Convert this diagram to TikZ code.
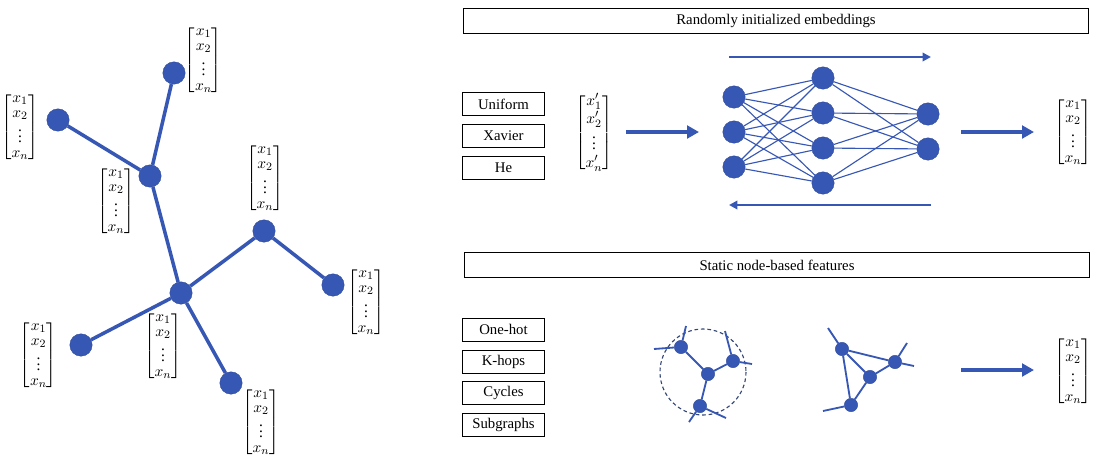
\documentclass[tikz,border=0pt]{standalone}
\usepackage{amsmath}
\usepackage{fontspec}
\setmainfont{Liberation Serif}
\usetikzlibrary{arrows.meta}
\definecolor{nodeblue}{RGB}{55,87,180}
\definecolor{ringgray}{RGB}{52,70,118}
\def\xvec{$\begin{bmatrix}x_1\\x_2\\\vdots\\x_n\end{bmatrix}$}
\def\xvecp{\fontsize{11}{12.6}\selectfont$\begin{bmatrix}x'_1\\x'_2\\\vdots\\x'_n\end{bmatrix}$}
\tikzset{
	vert/.style={circle, fill=nodeblue, draw=nodeblue!85!black, line width=0.3pt, inner sep=0pt, minimum size=15.9pt},
	dot/.style={circle, fill=nodeblue, draw=nodeblue!85!black, line width=0.3pt, inner sep=0pt, minimum size=9.5pt},
	vec/.style={inner sep=0pt, font=\fontsize{11}{10.4}\selectfont},
	tag/.style={draw, line width=0.6pt, minimum width=58.8pt, minimum height=16.3pt, inner sep=0pt, font=\fontsize{10.5}{12}\selectfont},
	banner/.style={draw, line width=0.6pt, minimum width=445pt, minimum height=17.7pt, inner sep=0pt, font=\fontsize{10.5}{12}\selectfont},
	tree/.style={nodeblue, line width=2.5pt},
	link/.style={nodeblue, line width=0.8pt},
	stub/.style={nodeblue, line width=1.3pt},
	flow/.style={nodeblue, line width=2.8pt, -{Triangle[length=8.5pt, width=9pt]}},
	pass/.style={nodeblue, line width=1.9pt, -{Triangle[length=6pt, width=6pt]}},
}
\begin{document}
\begin{tikzpicture}[x=0.025cm, y=-0.025cm]
		%%%%% START %%%%%
		\useasboundingbox (0, 0) rectangle (1101, 463);
		
		% left graph
		\node[vert] (top) at (174, 73) {};
		\node[vert] (left) at (58, 120) {};
		\node[vert] (hubA) at (150, 176) {};
		\node[vert] (hubB) at (181, 293) {};
		\node[vert] (upper) at (264, 231) {};
		\node[vert] (right) at (333, 285) {};
		\node[vert] (lower) at (81, 345) {};
		\node[vert] (bottom) at (231, 383) {};
		
		\draw[tree] (top) -- (hubA);
		\draw[tree] (left) -- (hubA);
		\draw[tree] (hubA) -- (hubB);
		\draw[tree] (hubB) -- (upper);
		\draw[tree] (upper) -- (right);
		\draw[tree] (hubB) -- (lower);
		\draw[tree] (hubB) -- (bottom);
		
		\node[vec] (vtop) at (203.5, 60) {\xvec};
		\node[vec] (vleft) at (20, 127) {\xvec};
		\node[vec] (vhubA) at (116, 201) {\xvec};
		\node[vec] (vupper) at (265, 178) {\xvec};
		\node[vec] (vright) at (366, 302) {\xvec};
		\node[vec] (vlower) at (38.5, 355) {\xvec};
		\node[vec] (vhubB) at (163, 346) {\xvec};
		\node[vec] (vbottom) at (261, 422) {\xvec};
		
		% randomly initialized embeddings
		\node[banner] (random) at (776, 20.5) {Randomly initialized embeddings};
		\node[tag] (uniform) at (503.5, 104) {Uniform};
		\node[tag] (xavier) at (503.5, 135.5) {Xavier};
		\node[tag] (he) at (503.5, 167.5) {He};
		\node[vec] (vinit) at (594, 133) {\xvecp};
		
		\coordinate (inA) at (626, 132);
		\coordinate (inB) at (699, 132);
		\draw[flow] (inA) -- (inB);
		
		\foreach \k/\y in {1/97, 2/132, 3/167}
			\node[vert] (in\k) at (734, \y) {};
		\foreach \k/\y in {1/78, 2/113, 3/148, 4/183}
			\node[vert] (hid\k) at (823, \y) {};
		\foreach \k/\y in {1/114, 2/149}
			\node[vert] (out\k) at (928, \y) {};
		\foreach \i in {1,2,3}
			\foreach \j in {1,...,4}
				\draw[link] (in\i) -- (hid\j);
		\foreach \j in {1,...,4}
			\foreach \k in {1,2}
				\draw[link] (hid\j) -- (out\k);
		
		\coordinate (fwdA) at (729, 57);
		\coordinate (fwdB) at (931, 57);
		\draw[pass] (fwdA) -- (fwdB);
		\coordinate (bwdA) at (931, 205);
		\coordinate (bwdB) at (729, 205);
		\draw[pass] (bwdA) -- (bwdB);
		
		\coordinate (outA) at (961, 132);
		\coordinate (outB) at (1034, 132);
		\draw[flow] (outA) -- (outB);
		\node[vec] (vout) at (1073, 132) {\xvec};
		
		% static node-based features
		\node[banner] (static) at (777, 265) {Static node-based features};
		\node[tag] (onehot) at (503.5, 329.5) {One-hot};
		\node[tag] (khops) at (503.5, 362) {K-hops};
		\node[tag] (cycles) at (503.5, 393) {Cycles};
		\node[tag] (subgraphs) at (503.5, 424.5) {Subgraphs};
		
		\draw[ringgray, line width=0.8pt, dash pattern=on 2.6pt off 2pt] (703, 372) circle (43);
		\node[dot] (ka) at (681, 347) {};
		\node[dot] (kb) at (733, 361) {};
		\node[dot] (kc) at (708, 374) {};
		\node[dot] (kd) at (700, 406) {};
		\draw[stub] (ka) -- (kc);
		\draw[stub] (kb) -- (kc);
		\draw[stub] (kc) -- (kd);
		\coordinate (ka1) at (654, 349);
		\coordinate (ka2) at (686, 326);
		\coordinate (kb1) at (725, 331);
		\coordinate (kb2) at (752, 364);
		\coordinate (kd1) at (689, 422);
		\coordinate (kd2) at (726, 418);
		\draw[stub] (ka) -- (ka1);
		\draw[stub] (ka) -- (ka2);
		\draw[stub] (kb) -- (kb1);
		\draw[stub] (kb) -- (kb2);
		\draw[stub] (kd) -- (kd1);
		\draw[stub] (kd) -- (kd2);
		
		\node[dot] (ca) at (842, 349) {};
		\node[dot] (cb) at (895, 362) {};
		\node[dot] (cc) at (870, 377) {};
		\node[dot] (cd) at (851, 405) {};
		\draw[stub] (ca) -- (cb);
		\draw[stub] (ca) -- (cc);
		\draw[stub] (cc) -- (cb);
		\draw[stub] (ca) -- (cd);
		\draw[stub] (cc) -- (cd);
		\coordinate (ca1) at (828, 328);
		\coordinate (cb1) at (907, 343);
		\coordinate (cb2) at (914, 366);
		\coordinate (cd1) at (823, 411);
		\draw[stub] (ca) -- (ca1);
		\draw[stub] (cb) -- (cb1);
		\draw[stub] (cb) -- (cb2);
		\draw[stub] (cd) -- (cd1);
		
		\coordinate (featA) at (961, 370);
		\coordinate (featB) at (1034, 370);
		\draw[flow] (featA) -- (featB);
		\node[vec] (vfeat) at (1073, 371) {\xvec};
		%%%%% END %%%%%
\end{tikzpicture}
\end{document}
